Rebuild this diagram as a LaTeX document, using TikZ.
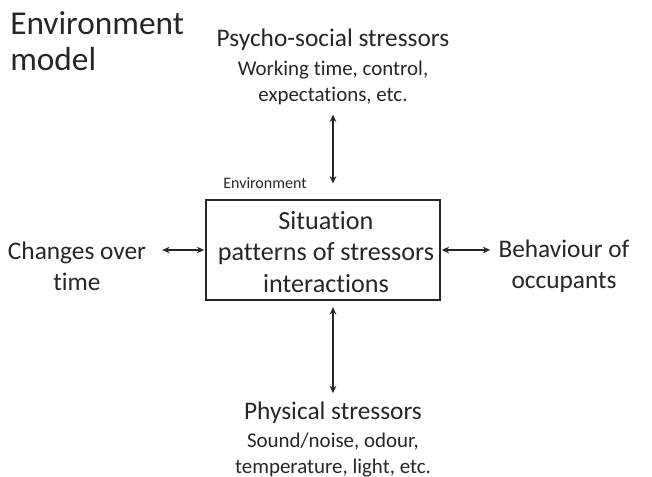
\documentclass[tikz,border=0pt]{standalone}
\usepackage{fontspec}
\setmainfont{Carlito}[Ligatures=NoCommon]
\usetikzlibrary{arrows.meta}
\begin{document}
\begin{tikzpicture}[x=0.75pt,y=-0.75pt,
  big/.style={font=\fontsize{19}{23}\selectfont, align=center, text=black!85, inner sep=0pt},
  sub/.style={font=\fontsize{15.7}{19.5}\selectfont, align=center, text=black!85, inner sep=0pt},
  link/.style={{Stealth[length=5.5pt,width=5pt]}-{Stealth[length=5.5pt,width=5pt]}, line width=1.1pt, black!85}]
\useasboundingbox (0,0) rectangle (652,477);
\node[anchor=north west, align=left, inner sep=0pt, text=black!85, font=\fontsize{25}{27}\selectfont] (title) at (10,11) {Environment\\model};
% stressors on top
\node[big, anchor=base] (psy) at (333,47) {Psycho-social stressors};
\node[sub] (psysub) at (333,83) {Working time, control,\\expectations, etc.};
% the situation box
\node[draw, line width=0.8pt, black!85, minimum width=175.5pt, minimum height=75pt, inner sep=0pt] (box) at (323,250) {};
\node[big, font=\fontsize{19.6}{23.8}\selectfont] (sit) at (326,252) {Situation\\patterns of stressors\\interactions};
\node[font=\fontsize{12}{14}\selectfont, text=black!85, inner sep=0pt] (env) at (265,183) {Environment};
% left and right
\node[big] (chg) at (77,266) {Changes over\\time};
\node[big] (occ) at (564,266) {Behaviour of\\occupants};
% physical stressors
\node[big, anchor=base] (phy) at (333,419) {Physical stressors};
\node[sub] (physub) at (333,455) {Sound/noise, odour,\\temperature, light, etc.};
% arrows
\draw[link, shorten <=7pt, shorten >=12pt] (psysub.south) -- (psysub.south |- box.north);
\draw[link, shorten <=5pt, shorten >=6pt] (box.south -| psysub.south) -- (phy.north -| psysub.south);
\draw[link, shorten <=12pt, shorten >=1pt] (box.west -| chg.east) -- (box.west);
\draw[link, shorten <=1pt, shorten >=6pt] (box.east) -- (box.east -| occ.west);
\end{tikzpicture}
\end{document}
